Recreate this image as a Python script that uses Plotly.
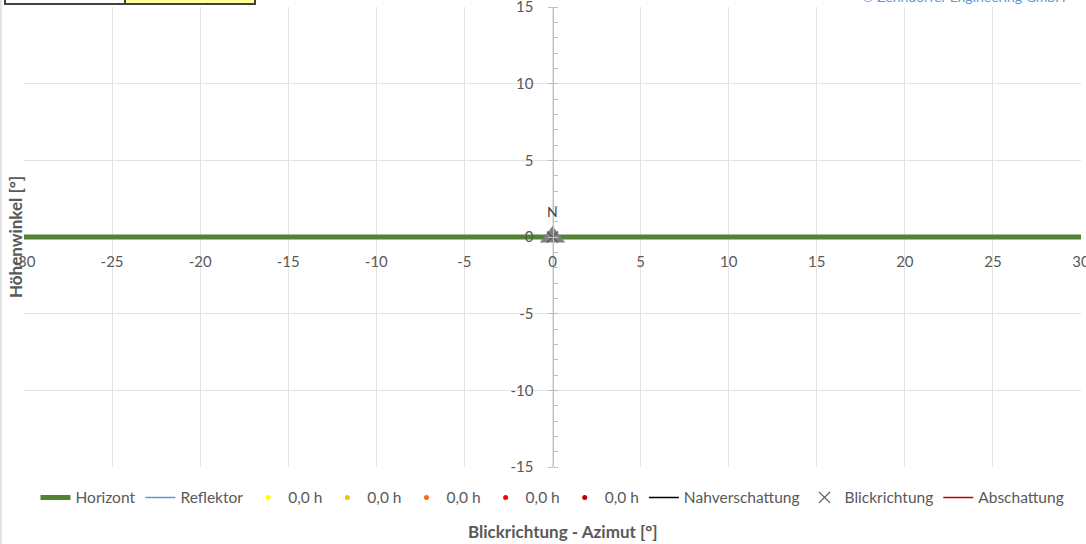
import plotly.graph_objects as go

# ---- data ----
horizont_az = [-30, 30]
horizont_el = [0, 0]
blick_az = [0]
blick_el = [0]
blick_label = "N"
sun_labels = ["0,0 h", "0,0 h", "0,0 h", "0,0 h", "0,0 h"]
sun_colors = ["#FFFF00", "#FFC000", "#FF6A13", "#FF0000", "#C00000"]
x_ticks = [-30, -25, -20, -15, -10, -5, 0, 5, 10, 15, 20, 25, 30]
y_ticks = [-15, -10, -5, 0, 5, 10, 15]

FONT = "Lato"
GRAY = "#595959"
GRID = "#E3E3E3"

fig = go.Figure()

fig.add_trace(go.Scatter(x=horizont_az, y=horizont_el, mode="lines", name="Horizont",
                         line=dict(color="#548235", width=5)))
fig.add_trace(go.Scatter(x=[None], y=[None], mode="lines", name="Reflektor",
                         line=dict(color="#5B9BD5", width=1.5)))
for lab, col in zip(sun_labels, sun_colors):
    fig.add_trace(go.Scatter(x=[None], y=[None], mode="markers", name=lab,
                             marker=dict(color=col, size=5)))
fig.add_trace(go.Scatter(x=[None], y=[None], mode="lines", name="Nahverschattung",
                         line=dict(color="#000000", width=1.5)))
# direction triangle
fig.add_trace(go.Scatter(x=blick_az, y=blick_el, mode="markers", showlegend=False,
                         marker=dict(symbol="triangle-up", size=22, color="#808080",
                                     line=dict(width=0))))
fig.add_trace(go.Scatter(x=blick_az, y=blick_el, mode="markers", name="Blickrichtung",
                         marker=dict(symbol="x-thin", size=11, color="#595959",
                                     line=dict(color="#595959", width=1.3))))
fig.add_trace(go.Scatter(x=[None], y=[None], mode="lines", name="Abschattung",
                         line=dict(color="#C00000", width=1.5)))

fig.add_annotation(text=blick_label, x=blick_az[0], y=blick_el[0], yshift=26,
                   showarrow=False, font=dict(family=FONT, size=14, color="#404040"))

fig.update_layout(
    width=1086, height=544,
    margin=dict(l=24, r=5, t=7, b=77, autoexpand=False),
    paper_bgcolor="white", plot_bgcolor="white",
    font=dict(family=FONT, size=14, color=GRAY),
    legend=dict(orientation="h", x=0.5, xanchor="center", y=-0.067, yanchor="middle",
                font=dict(family=FONT, size=15.5, color=GRAY), itemwidth=30,
                tracegroupgap=0, traceorder="normal"),
    xaxis=dict(range=[-30, 30], tickvals=x_ticks, ticktext=[str(v) for v in x_ticks],
               showgrid=True, gridcolor=GRID, gridwidth=1, zeroline=False,
               showline=False, anchor="free", position=0.5, ticks="",
               ticklabelstandoff=14, ticklabeloverflow="allow", automargin=False,
               tickfont=dict(size=15, color=GRAY), fixedrange=True),
    yaxis=dict(range=[-15, 15], tickvals=y_ticks, ticktext=[str(v) for v in y_ticks],
               showgrid=True, gridcolor=GRID, gridwidth=1, zeroline=False,
               showline=True, linecolor="#BFBFBF", linewidth=1,
               anchor="free", position=0.5, ticks="outside", ticklen=5, tickcolor="#BFBFBF",
               ticklabelstandoff=11, ticklabeloverflow="allow", automargin=False,
               minor=dict(dtick=1, ticks="inside", ticklen=4, tickcolor="#BFBFBF", showgrid=False),
               tickfont=dict(size=15, color=GRAY), fixedrange=True),
)

# axis titles as annotations
fig.add_annotation(text="<b>Blickrichtung - Azimut [°]</b>", xref="paper", yref="paper",
                   x=(563 - 24) / 1057, y=(467 - 531) / 460, xanchor="center", yanchor="middle",
                   showarrow=False, font=dict(family=FONT, size=17, color=GRAY))
fig.add_annotation(text="<b>Höhenwinkel [°]</b>", xref="paper", yref="paper",
                   x=(15 - 24) / 1057, y=0.5,
                   xanchor="center", yanchor="middle", textangle=-90,
                   showarrow=False, font=dict(family=FONT, size=17, color=GRAY))
# copyright (cut off at top)
fig.add_annotation(text="© Zehndorfer Engineering GmbH", xref="paper", yref="paper",
                   x=(1068 - 24) / 1057, y=1 + 10 / 460, xanchor="right", yanchor="middle",
                   showarrow=False, font=dict(family=FONT, size=14, color="#5B9BD5"))

# top-left boxes and chart border
fig.add_shape(type="rect", xref="paper", yref="paper",
              x0=(5 - 24) / 1057, x1=(125 - 24) / 1057, y0=1 + 3 / 460, y1=1.06,
              line=dict(color="#404040", width=2), fillcolor="white")
fig.add_shape(type="rect", xref="paper", yref="paper",
              x0=(125 - 24) / 1057, x1=(255 - 24) / 1057, y0=1 + 3 / 460, y1=1.06,
              line=dict(color="#404040", width=2), fillcolor="#FFFF99")
fig.add_shape(type="line", xref="paper", yref="paper",
              x0=(1 - 24) / 1057, x1=(1 - 24) / 1057, y0=-0.2, y1=1.1,
              line=dict(color="#D9D9D9", width=1.5))

fig.write_html("out.html", config={"displayModeBar": False},
               post_script="document.body.style.margin='0px';document.body.style.overflow='hidden';")
